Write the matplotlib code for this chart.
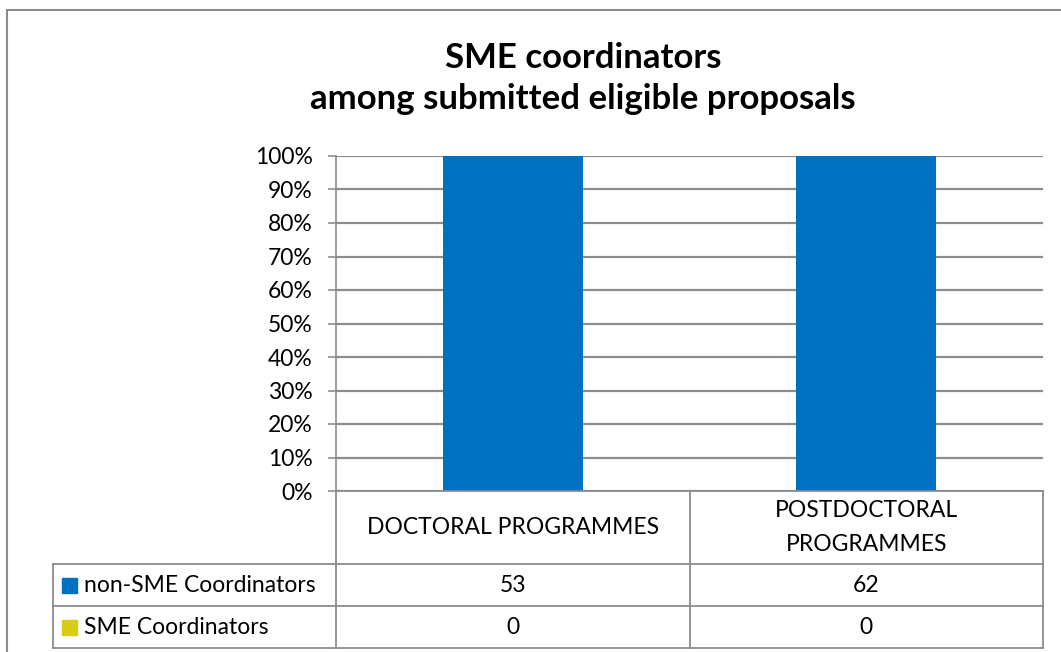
import matplotlib
matplotlib.use("Agg")
import matplotlib.pyplot as plt
from matplotlib.patches import Rectangle
from matplotlib.lines import Line2D

# data
categories = ["DOCTORAL PROGRAMMES", "POSTDOCTORAL\nPROGRAMMES"]
series_names = ["non-SME Coordinators", "SME Coordinators"]
non_sme = [53, 62]
sme = [0, 0]
colors = ["#0070C0", "#D6CD14"]
yticks = [0, 10, 20, 30, 40, 50, 60, 70, 80, 90, 100]

plt.rcParams['font.family'] = ['Lato', 'DejaVu Sans']

W, H = 1061, 652
fig = plt.figure(figsize=(W / 100, H / 100), dpi=100)

def fx(px):
    return px / W

def fy(py):
    return 1 - py / H

# outer chart frame (runs past the right and bottom edge)
fig.patches.append(Rectangle((fx(7), fy(H + 20)), fx(W + 40), fy(10) - fy(H + 20),
                             transform=fig.transFigure, fill=False,
                             edgecolor="#8C8C8C", linewidth=1.5))

ax_l, ax_r, ax_t, ax_b = 336, 1043, 156, 491
ax = fig.add_axes([fx(ax_l), fy(ax_b), fx(ax_r - ax_l), fy(ax_t) - fy(ax_b)])

totals = [a + b for a, b in zip(non_sme, sme)]
pct_non = [100 * a / t if t else 0 for a, t in zip(non_sme, totals)]
pct_sme = [100 * b / t if t else 0 for b, t in zip(sme, totals)]

x = list(range(len(categories)))
ax.bar(x, pct_non, width=0.396, color=colors[0], zorder=3)
ax.bar(x, pct_sme, width=0.396, bottom=pct_non, color=colors[1], zorder=3)

fs = 16.5
ax.set_xlim(-0.5, len(categories) - 0.5)
ax.set_ylim(0, 100)
ax.set_yticks(yticks)
ax.set_yticklabels([f"{v}%" for v in yticks], fontsize=fs)
ax.tick_params(axis="y", length=5.8, width=1.2, color="#8C8C8C", pad=11)
ax.set_xticks([])
ax.yaxis.grid(True, color="#8C8C8C", linewidth=1.6, zorder=0)
ax.set_axisbelow(True)
for s in ["top", "right", "bottom"]:
    ax.spines[s].set_visible(False)
ax.spines["left"].set_color("#8C8C8C")
ax.spines["left"].set_linewidth(1.2)

# data table under the plot
lc = "#8C8C8C"
lw = 1.3
row_y = [491, 564, 606, 648]
leg_l = 53
col_x = [ax_l, (ax_l + ax_r) / 2, ax_r]

def hline(x0, x1, y):
    fig.add_artist(Line2D([fx(x0), fx(x1)], [fy(y), fy(y)], color=lc, linewidth=lw))

def vline(x, y0, y1):
    fig.add_artist(Line2D([fx(x), fx(x)], [fy(y0), fy(y1)], color=lc, linewidth=lw))

hline(ax_l, ax_r, row_y[0])
for y in row_y[1:]:
    hline(leg_l, ax_r, y)
for xx in col_x:
    vline(xx, row_y[0], row_y[-1])
vline(leg_l, row_y[1], row_y[-1])

for i, cat in enumerate(categories):
    cx = (col_x[i] + col_x[i + 1]) / 2
    fig.text(fx(cx), fy((row_y[0] + row_y[1]) / 2), cat, ha="center", va="center",
             fontsize=fs, linespacing=1.75)

table_vals = [non_sme, sme]
for r, (name, vals) in enumerate(zip(series_names, table_vals)):
    cy = (row_y[r + 1] + row_y[r + 2]) / 2
    fig.patches.append(Rectangle((fx(62), fy(cy + 7.5)), fx(15), fy(cy - 7.5) - fy(cy + 7.5),
                                 transform=fig.transFigure, color=colors[r]))
    fig.text(fx(84), fy(cy), name, ha="left", va="center", fontsize=fs)
    for i, v in enumerate(vals):
        cx = (col_x[i] + col_x[i + 1]) / 2
        fig.text(fx(cx), fy(cy), str(v), ha="center", va="center", fontsize=fs)

fig.text(fx(583), fy(58), "SME coordinators", ha="center", va="center",
         fontsize=25, fontweight="bold")
fig.text(fx(583), fy(99), "among submitted eligible proposals", ha="center", va="center",
         fontsize=25, fontweight="bold")

fig.savefig("out.png", dpi=100)
